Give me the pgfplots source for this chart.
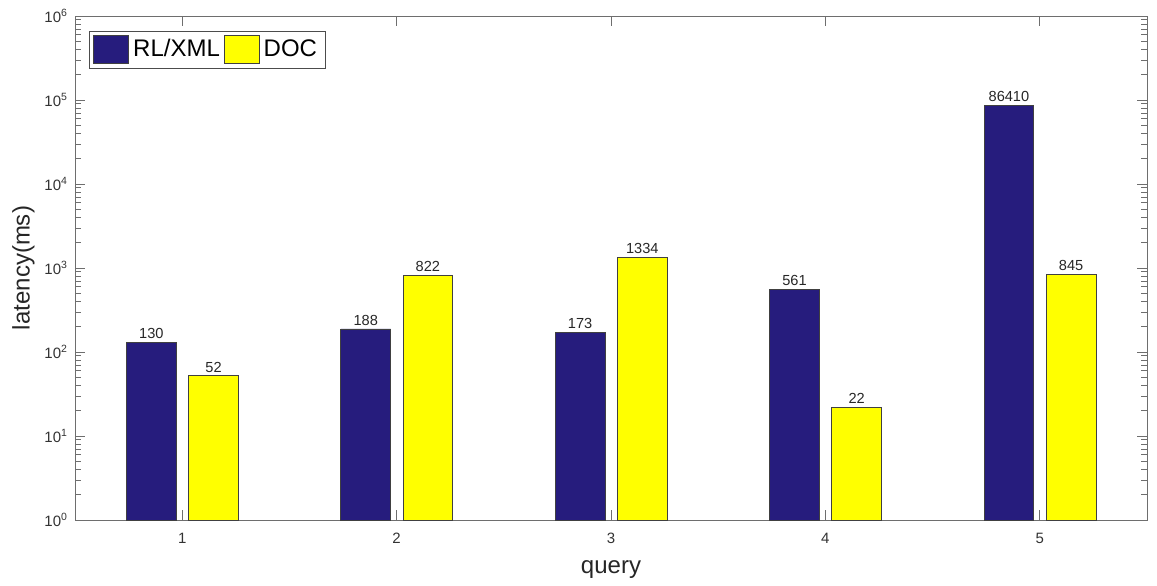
\documentclass[border=0pt]{standalone}
\usepackage{fontspec}
\setmainfont{Liberation Sans}
\usepackage{pgfplots}
\pgfplotsset{compat=1.18}
\definecolor{rlblue}{RGB}{38,28,125}
\definecolor{docyellow}{RGB}{255,255,0}
\definecolor{axgray}{RGB}{110,110,110}
\begin{document}
\begin{tikzpicture}
\begin{axis}[
  scale only axis,
  width=536pt, height=252pt,
  xmin=0.5, xmax=5.5,
  ymode=log, log basis y=10,
  ymin=1, ymax=1e6,
  ybar, bar width=0.232,
  xtick={1,2,3,4,5},
  xticklabels={1,2,3,4,5},
  tick align=inside,
  xtick pos=both, ytick pos=both,
  major tick length=5pt, minor tick length=3pt,
  axis line style={axgray},
  every tick/.style={axgray},
  /pgf/number format/assume math mode=true,
  yticklabel={10\textsuperscript{\pgfmathtruncatemacro\e{round(\tick)}\e}},
  ticklabel style={font=\fontsize{7.5}{8}\selectfont, text=black!80},
  xticklabel style={yshift=-3pt},
  xlabel={query}, ylabel={latency(ms)},
  label style={font=\fontsize{12}{14}\selectfont, text=black!85},
  xlabel style={yshift=-1.5pt},
  ylabel style={yshift=-2pt},
  legend style={at={(0,1)}, anchor=north west, xshift=7pt, yshift=-7.5pt,
    draw=black!70, font=\fontsize{12}{14}\selectfont, inner sep=2pt,
    legend cell align=left},
  legend columns=-1,
  nodes near coords,
  point meta=explicit symbolic,
  every node near coord/.append style={font=\fontsize{7.3}{8}\selectfont, text=black!85, inner sep=1.5pt},
]
\addplot[bar shift=-0.144, fill=rlblue, draw=black!75, line width=0.4pt,
  legend image code/.code={\draw[fill=rlblue, draw=black!75] (0pt,-7pt) rectangle (17.5pt,7pt);}]
  coordinates {(1,130) [130] (2,188) [188] (3,173) [173] (4,561) [561] (5,86410) [86410]};
\addplot[bar shift=0.146, fill=docyellow, draw=black!75, line width=0.4pt,
  legend image code/.code={\draw[fill=docyellow, draw=black!75] (0pt,-7pt) rectangle (17.5pt,7pt);}]
  coordinates {(1,52) [52] (2,822) [822] (3,1334) [1334] (4,22) [22] (5,845) [845]};
\legend{RL/XML, DOC}
\end{axis}
\pgfresetboundingbox
\path ([shift={(-37.5pt,-32.5pt)}]current axis.south west) rectangle ([shift={(5pt,8pt)}]current axis.north east);
\end{tikzpicture}
\end{document}
